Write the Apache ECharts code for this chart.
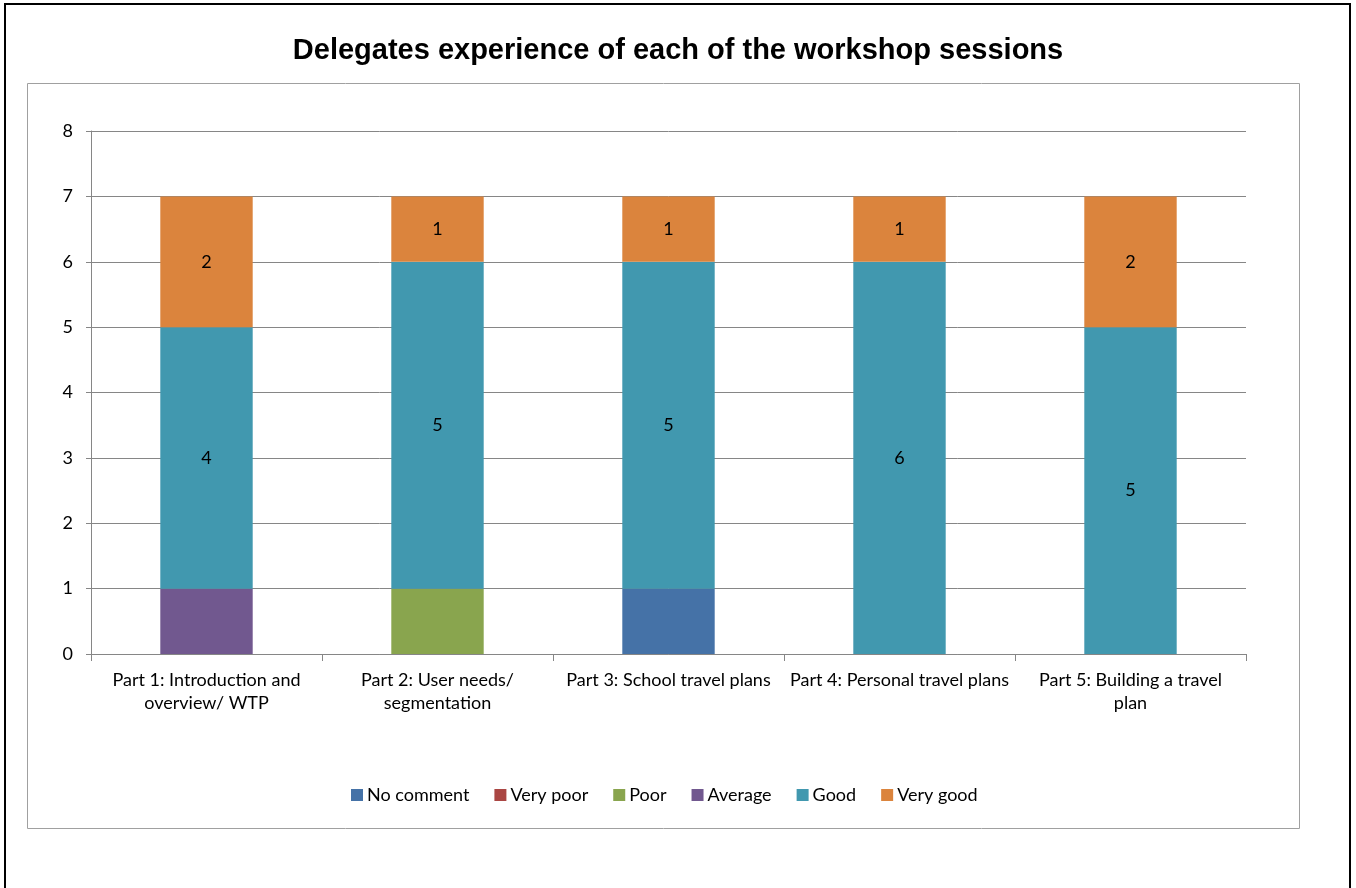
<!DOCTYPE html>
<html>
<head>
<meta charset="utf-8">
<script src="https://cdn.jsdelivr.net/npm/echarts@6/dist/echarts.min.js"></script>
<style>
html, body { margin: 0; padding: 0; background: #fff; }
#chart { width: 1356px; height: 888px; }
</style>
</head>
<body>
<div id="chart"></div>
<script>
const categories = [
  'Part 1: Introduction and\noverview/ WTP',
  'Part 2: User needs/\nsegmentation',
  'Part 3: School travel plans',
  'Part 4: Personal travel plans',
  'Part 5: Building a travel\nplan'
]
const seriesNames = ['No comment', 'Very poor', 'Poor', 'Average', 'Good', 'Very good']
const noComment = [0, 0, 1, 0, 0]
const veryPoor = [0, 0, 0, 0, 0]
const poor = [0, 1, 0, 0, 0]
const average = [1, 0, 0, 0, 0]
const good = [4, 5, 5, 6, 5]
const veryGood = [2, 1, 1, 1, 2]
const colors = ['#4572A7', '#AA4643', '#89A54E', '#71588F', '#4198AF', '#DB843D']

const values = [noComment, veryPoor, poor, average, good, veryGood]
const labelled = [false, false, false, false, true, true]
const font = "Lato, 'Open Sans', sans-serif"

const chart = echarts.init(document.getElementById('chart'))
chart.setOption({
  animation: false,
  color: colors,
  title: {
    text: 'Delegates experience of each of the workshop sessions',
    left: 'center',
    top: 31,
    textStyle: { fontFamily: 'Liberation Sans, Arial, sans-serif', fontSize: 29, fontWeight: 'bold', color: '#000' }
  },
  graphic: [
    { type: 'rect', shape: { x: 5, y: 4, width: 1345, height: 900 }, style: { fill: 'none', stroke: '#000', lineWidth: 2 } },
    { type: 'rect', shape: { x: 27.5, y: 83.5, width: 1272, height: 745 }, style: { fill: 'none', stroke: '#a0a0a0', lineWidth: 1 } }
  ],
  legend: {
    data: seriesNames,
    bottom: 79,
    left: 346,
    itemWidth: 12,
    itemHeight: 12,
    itemGap: 25,
    icon: 'rect',
    textStyle: { fontFamily: font, fontSize: 18, color: '#000', padding: [0, 0, 0, -1] }
  },
  grid: { left: 91, right: 110, top: 131, bottom: 234 },
  xAxis: {
    type: 'category',
    data: categories,
    axisLine: { lineStyle: { color: '#868686' } },
    axisTick: { show: true, length: 7, lineStyle: { color: '#868686' } },
    axisLabel: { fontFamily: font, fontSize: 18, color: '#000', margin: 15, lineHeight: 23, interval: 0 }
  },
  yAxis: {
    type: 'value',
    min: 0,
    max: 8,
    interval: 1,
    axisLine: { show: true, lineStyle: { color: '#868686' } },
    axisTick: { show: true, length: 5, lineStyle: { color: '#868686' } },
    axisLabel: { fontFamily: font, fontSize: 18, color: '#000', margin: 18 },
    splitLine: { lineStyle: { color: '#868686' } }
  },
  series: seriesNames.map((name, i) => ({
    name: name,
    type: 'bar',
    stack: 'total',
    barWidth: '40%',
    data: values[i].map(v => v === 0 ? '-' : v),
    label: {
      show: labelled[i],
      position: 'inside',
      color: '#000',
      fontFamily: font,
      fontSize: 18
    }
  }))
})
</script>
</body>
</html>
